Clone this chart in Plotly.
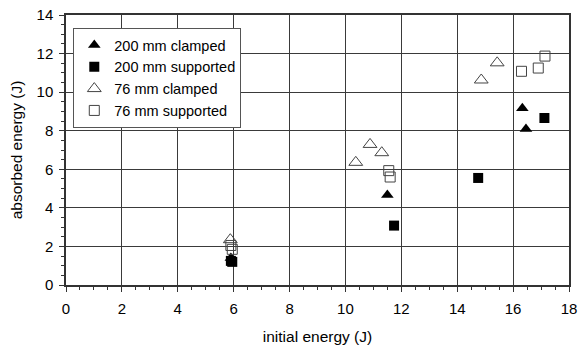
import plotly.graph_objects as go

# data
clamped200_x = [5.9, 11.5, 16.33, 16.46]
clamped200_y = [1.4, 4.67, 9.16, 8.09]
supported200_x = [5.9, 5.95, 11.74, 14.75, 17.12]
supported200_y = [1.25, 1.2, 3.08, 5.55, 8.66]
clamped76_x = [5.88, 10.37, 10.88, 11.3, 14.86, 15.43]
clamped76_y = [2.35, 6.36, 7.29, 6.86, 10.63, 11.52]
supported76_x = [5.9, 5.95, 11.55, 11.6, 16.3, 16.9, 17.14]
supported76_y = [2.05, 1.85, 5.93, 5.6, 11.08, 11.25, 11.87]

x_ticks = [0, 2, 4, 6, 8, 10, 12, 14, 16, 18]
y_ticks = [0, 2, 4, 6, 8, 10, 12, 14]

FONT = "Liberation Sans, Arial, sans-serif"

fig = go.Figure()
fig.add_trace(go.Scatter(x=clamped200_x, y=clamped200_y, mode="markers", name="200 mm clamped",
                         marker=dict(symbol="triangle-up", size=11, color="black")))
fig.add_trace(go.Scatter(x=supported200_x, y=supported200_y, mode="markers", name="200 mm supported",
                         marker=dict(symbol="square", size=10, color="black")))
fig.add_trace(go.Scatter(x=clamped76_x, y=clamped76_y, mode="markers", name="76 mm clamped",
                         marker=dict(symbol="triangle-up-open", size=12, color="#444444", line=dict(width=1))))
fig.add_trace(go.Scatter(x=supported76_x, y=supported76_y, mode="markers", name="76 mm supported",
                         marker=dict(symbol="square-open", size=10, color="#444444", line=dict(width=1))))

axis_common = dict(showgrid=True, gridcolor="#3a3a3a", gridwidth=1, zeroline=False,
                   showline=True, linecolor="#333333", linewidth=1.5, mirror=True,
                   ticks="outside", ticklen=5, tickcolor="#333333", automargin=False,
                   ticklabeloverflow="allow",
                   tickfont=dict(family=FONT, size=15, color="black"))

fig.update_xaxes(range=[0, 18], tickvals=x_ticks, ticklabelstandoff=4,
                 title=dict(text="initial energy (J)", font=dict(family=FONT, size=15.5, color="black"), standoff=15),
                 minor=dict(ticks="outside", dtick=0.5, ticklen=3, tickcolor="#333333", showgrid=False),
                 **axis_common)
fig.update_yaxes(range=[0, 14], tickvals=y_ticks, ticklabelstandoff=3,
                 title=dict(text="absorbed energy (J)", font=dict(family=FONT, size=15.5, color="black"), standoff=10),
                 minor=dict(ticks="outside", dtick=0.5, ticklen=3, tickcolor="#333333", showgrid=False),
                 **axis_common)

fig.update_layout(
    width=579, height=347,
    margin=dict(l=66, r=10, t=15, b=62, autoexpand=False),
    plot_bgcolor="white", paper_bgcolor="white",
    font=dict(family=FONT, size=14, color="black"),
    legend=dict(x=0.0145, y=0.952, xanchor="left", yanchor="top",
                bgcolor="white", bordercolor="#555555", borderwidth=1,
                font=dict(family=FONT, size=14.5, color="black"),
                itemwidth=30, tracegroupgap=0),
    showlegend=True,
)

fig.write_html("out.html", config={"displayModeBar": False},
               post_script="document.body.style.margin='0';document.body.style.overflow='hidden';")
